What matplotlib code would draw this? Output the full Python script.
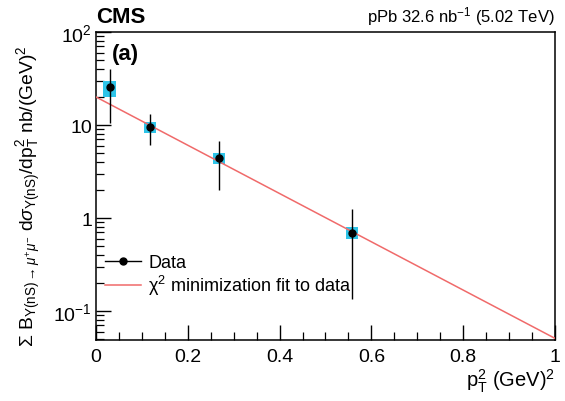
import numpy as np
import matplotlib.pyplot as plt
from matplotlib.lines import Line2D
from matplotlib.ticker import MultipleLocator, LogLocator, NullFormatter

plt.rcParams['font.family'] = ['Liberation Sans', 'DejaVu Sans']
plt.rcParams['mathtext.fontset'] = 'custom'
plt.rcParams['mathtext.rm'] = 'Liberation Sans'
plt.rcParams['mathtext.it'] = 'Liberation Sans:italic'
plt.rcParams['mathtext.bf'] = 'Liberation Sans:bold'

# data
pt2 = [0.03, 0.118, 0.268, 0.558]
xsec = [25.6, 9.5, 4.4, 0.69]
err_hi = [40.0, 13.1, 6.7, 1.25]
err_lo = [10.5, 6.1, 2.0, 0.135]
syst_hi = [29.7, 10.7, 5.0, 0.80]
syst_lo = [20.0, 8.2, 3.8, 0.60]
syst_w = [0.028, 0.026, 0.026, 0.026]

fit_x = [0.0, 1.0]
fit_y = [20.0, 0.051]

pt2 = np.array(pt2)
xsec = np.array(xsec)
yerr = [xsec - np.array(err_lo), np.array(err_hi) - xsec]

fig = plt.figure(figsize=(5.65, 4.02), dpi=100)
ax = fig.add_axes([0.170, 0.152, 0.812, 0.766])

ax.bar(pt2, np.array(syst_hi) - np.array(syst_lo), bottom=syst_lo, width=syst_w,
       color='#2ec4e8', edgecolor='none', zorder=2)
ax.plot(fit_x, fit_y, color='#f06a6a', lw=1.1, zorder=3)
ax.errorbar(pt2, xsec, yerr=yerr, fmt='o', color='black', ms=5, lw=1.0,
            capsize=0, zorder=4)

ax.set_yscale('log')
ax.set_xlim(0, 1)
ax.set_ylim(0.049, 100)

ax.xaxis.set_major_locator(MultipleLocator(0.2))
ax.xaxis.set_minor_locator(MultipleLocator(0.05))
ax.yaxis.set_minor_locator(LogLocator(base=10, subs=np.arange(2, 10)))
ax.yaxis.set_minor_formatter(NullFormatter())
ax.set_yticks([0.1, 1, 10, 100])
ax.set_yticklabels([r'$10^{-1}$', '1', '10', r'$10^{2}$'])
ax.set_xticks([0, 0.2, 0.4, 0.6, 0.8, 1.0])
ax.set_xticklabels(['0', '0.2', '0.4', '0.6', '0.8', '1'])

ax.tick_params(which='both', direction='in', top=False, right=False, labelsize=14)
ax.tick_params(which='major', length=11, width=1.0)
ax.tick_params(which='minor', length=6, width=0.9)
ax.tick_params(axis='x', pad=6)
ax.tick_params(axis='y', pad=3)
for s in ax.spines.values():
    s.set_linewidth(1.1)

ax.set_xlabel(r'p$_{\mathrm{T}}^{2}$ (GeV)$^2$', fontsize=14.5, loc='right', labelpad=1)
ax.set_ylabel(r'$\Sigma$ B$_{\Upsilon\mathrm{(nS)}\rightarrow\mu^{+}\mu^{-}}$ d$\sigma_{\Upsilon\mathrm{(nS)}}$/dp$_{\mathrm{T}}^{2}$ nb/(GeV)$^2$',
              fontsize=13.9, loc='top')
ax.yaxis.set_label_coords(-0.115, 0.958, transform=ax.transAxes)
ax.yaxis.label.set_verticalalignment('bottom')
ax.yaxis.label.set_horizontalalignment('right')

ax.text(0.0, 1.015, 'CMS', transform=ax.transAxes, fontsize=16, fontweight='bold',
        ha='left', va='bottom')
ax.text(1.0, 1.015, r'pPb 32.6 nb$^{-1}$ (5.02 TeV)', transform=ax.transAxes,
        fontsize=12, ha='right', va='bottom')
ax.text(0.035, 0.965, '(a)', transform=ax.transAxes, fontsize=16, fontweight='bold',
        ha='left', va='top')

handles = [Line2D([], [], color='black', lw=1.0, marker='o', ms=5),
           Line2D([], [], color='#f06a6a', lw=1.1)]
labels = ['Data', 'χ$^2$ minimization fit to data']
ax.legend(handles, labels, loc='lower left', bbox_to_anchor=(0.0, 0.11),
          frameon=False, fontsize=13, handlelength=2.0, borderaxespad=0.1,
          labelspacing=0.1, handletextpad=0.4)

plt.savefig('out.png', dpi=100)
